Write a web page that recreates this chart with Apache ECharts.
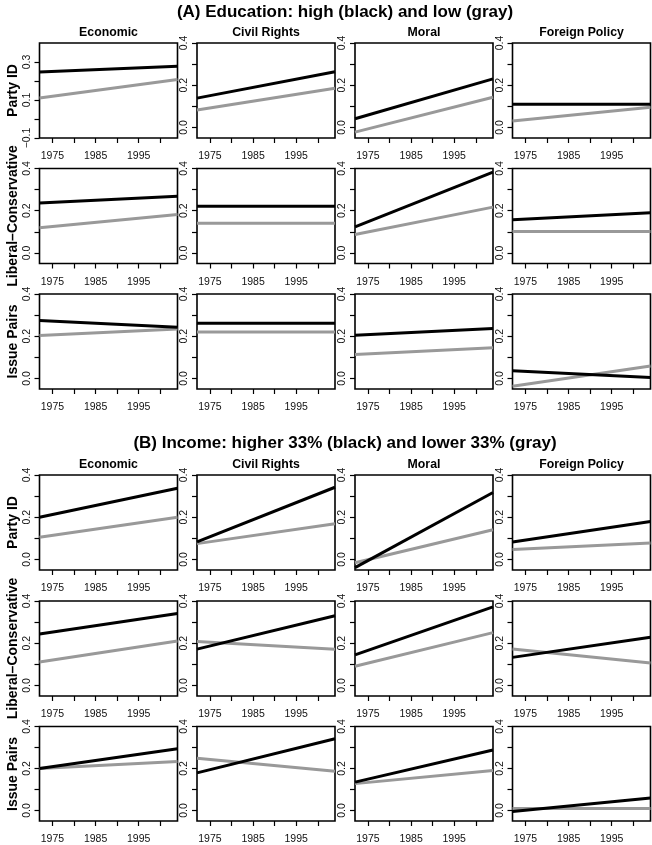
<!DOCTYPE html>
<html>
<head>
<meta charset="utf-8">
<script src="https://cdn.jsdelivr.net/npm/echarts@6/dist/echarts.min.js"></script>
<style>
html,body{margin:0;padding:0;background:#fff;}
#chart{width:652px;height:845px;}
</style>
</head>
<body>
<div id="chart"></div>
<script>
// ---------- data ----------
const panelTitles = ['(A) Education: high (black) and low (gray)', '(B) Income: higher 33% (black) and lower 33% (gray)'];
const rowNames = ['Party ID', 'Liberal\u2013Conservative', 'Issue Pairs'];
const colNames = ['Economic', 'Civil Rights', 'Moral', 'Foreign Policy'];
const fitYears = [1972, 2004];           // start and end of each fitted line
const tickYears = [1975, 1980, 1985, 1990, 1995, 2000];
const labelYears = [1975, 1985, 1995];
const yTicks = [0, 0.1, 0.2, 0.3, 0.4];
const yLabels = [0, 0.2, 0.4];
const yTicksWide = [-0.1, 0, 0.1, 0.2, 0.3];
const yLabelsWide = [-0.1, 0.1, 0.3];

// [start, end] of each line, per column (Economic, Civil Rights, Moral, Foreign Policy)
const eduHighPartyID  = [[0.248, 0.278], [0.139, 0.264], [0.041, 0.230], [0.110, 0.110]];
const eduLowPartyID   = [[0.110, 0.208], [0.083, 0.186], [-0.022, 0.143], [0.030, 0.096]];
const eduHighLibCon   = [[0.237, 0.269], [0.221, 0.221], [0.123, 0.383], [0.157, 0.190]];
const eduLowLibCon    = [[0.119, 0.182], [0.141, 0.141], [0.087, 0.217], [0.101, 0.101]];
const eduHighIssue    = [[0.275, 0.242], [0.261, 0.261], [0.205, 0.236], [0.036, 0.005]];
const eduLowIssue     = [[0.203, 0.234], [0.220, 0.220], [0.114, 0.145], [-0.037, 0.059]];

const incHighPartyID  = [[0.200, 0.337], [0.083, 0.342], [-0.039, 0.317], [0.083, 0.180]];
const incLowPartyID   = [[0.105, 0.200], [0.075, 0.169], [-0.016, 0.141], [0.047, 0.078]];
const incHighLibCon   = [[0.244, 0.341], [0.172, 0.330], [0.145, 0.372], [0.133, 0.228]];
const incLowLibCon    = [[0.111, 0.211], [0.208, 0.172], [0.091, 0.250], [0.173, 0.106]];
const incHighIssue    = [[0.200, 0.294], [0.179, 0.342], [0.135, 0.288], [-0.005, 0.059]];
const incLowIssue     = [[0.200, 0.233], [0.249, 0.187], [0.128, 0.190], [0.009, 0.009]];

const panels = [
  {high: [eduHighPartyID, eduHighLibCon, eduHighIssue], low: [eduLowPartyID, eduLowLibCon, eduLowIssue]},
  {high: [incHighPartyID, incHighLibCon, incHighIssue], low: [incLowPartyID, incLowLibCon, incLowIssue]}
];

// ---------- layout ----------
const FONT = "'Liberation Sans', Arial, Helvetica, sans-serif";
const colLeft = [39.5, 197, 355, 512.5];
const W = 138, H = 95;
const rowTop = [[43, 168.5, 294], [475, 601, 726.5]];
const titleY = [12, 443];
const colTitleY = [33, 465];

const grids = [], xAxes = [], yAxes = [], series = [], graphic = [];
let gi = 0;
for (let p = 0; p < 2; p++) {
  graphic.push({type: 'text', x: 345, y: titleY[p], style: {text: panelTitles[p], font: 'bold 17px ' + FONT, fill: '#000', textAlign: 'center', textVerticalAlign: 'middle'}});
  for (let c = 0; c < 4; c++) {
    graphic.push({type: 'text', x: colLeft[c] + W / 2, y: colTitleY[p], style: {text: colNames[c], font: 'bold 12.3px ' + FONT, fill: '#000', textAlign: 'center', textVerticalAlign: 'middle'}});
  }
  for (let r = 0; r < 3; r++) {
    graphic.push({type: 'text', x: 13, y: rowTop[p][r] + H / 2, rotation: Math.PI / 2, style: {text: rowNames[r], font: 'bold 14px ' + FONT, fill: '#000', textAlign: 'center', textVerticalAlign: 'middle'}});
    for (let c = 0; c < 4; c++) {
      const wide = (p === 0 && r === 0 && c === 0);
      grids.push({left: colLeft[c], top: rowTop[p][r], width: W, height: H, show: true, borderColor: '#000', borderWidth: 1.6, backgroundColor: 'transparent'});
      xAxes.push({
        type: 'value', gridIndex: gi, min: fitYears[0], max: fitYears[1], position: 'bottom',
        axisLine: {show: false, onZero: false}, splitLine: {show: false},
        axisTick: {show: true, inside: false, length: 5, lineStyle: {color: '#000', width: 1.2}, customValues: tickYears},
        axisLabel: {customValues: labelYears, formatter: v => String(v), fontSize: 10.5, margin: 13, color: '#111', fontFamily: FONT}
      });
      yAxes.push({
        type: 'value', gridIndex: gi, min: wide ? -0.1 : -0.05, max: 0.4, position: 'left',
        axisLine: {show: false, onZero: false}, splitLine: {show: false},
        axisTick: {show: true, inside: false, length: 5, lineStyle: {color: '#000', width: 1.2}, customValues: wide ? yTicksWide : yTicks},
        axisLabel: {customValues: wide ? yLabelsWide : yLabels, rotate: 90, formatter: v => (v < 0 ? '\u2212' : '') + Math.abs(v).toFixed(1), fontSize: 10.5, margin: 7, color: '#111', fontFamily: FONT}
      });
      const lo = panels[p].low[r][c], hi = panels[p].high[r][c];
      series.push({type: 'line', xAxisIndex: gi, yAxisIndex: gi, symbol: 'none', silent: true, clip: true,
        data: [[fitYears[0], lo[0]], [fitYears[1], lo[1]]], lineStyle: {color: '#999999', width: 3}});
      series.push({type: 'line', xAxisIndex: gi, yAxisIndex: gi, symbol: 'none', silent: true, clip: true,
        data: [[fitYears[0], hi[0]], [fitYears[1], hi[1]]], lineStyle: {color: '#000000', width: 3}});
      gi++;
    }
  }
}

const chart = echarts.init(document.getElementById('chart'), null, {renderer: 'canvas'});
chart.setOption({animation: false, backgroundColor: '#ffffff', grid: grids, xAxis: xAxes, yAxis: yAxes, series: series, graphic: graphic});
</script>
</body>
</html>
